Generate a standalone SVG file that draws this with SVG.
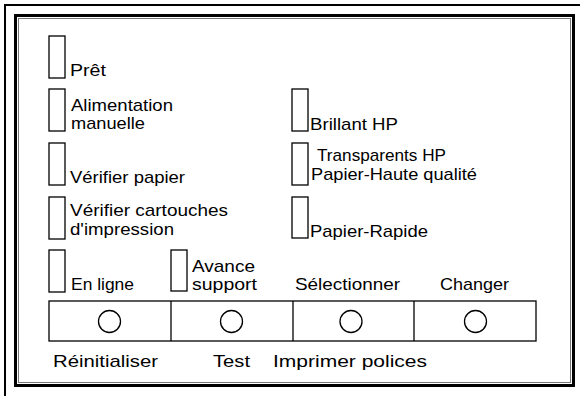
<svg xmlns="http://www.w3.org/2000/svg" width="580" height="396" viewBox="0 0 580 396">
  <style>
    .lbl { font-family: "Liberation Sans Narrow", "Liberation Sans", Arial, sans-serif; font-size: 17px; fill: #000; }
    .led { fill: #fff; stroke: #000; stroke-width: 1.3; }
    .btn { fill: none; stroke: #000; stroke-width: 1.3; }
  </style>
  <rect x="0" y="0" width="580" height="396" fill="#fff"/>

  <!-- outer frame lines -->
  <g id="frame">
    <line x1="4" y1="5" x2="580" y2="5" stroke="#000" stroke-width="2"/>
    <line x1="5" y1="4" x2="5" y2="396" stroke="#000" stroke-width="2"/>
    <rect x="15.5" y="15.5" width="558" height="370" fill="none" stroke="#000" stroke-width="3"/>
    <rect x="18.5" y="18.5" width="552" height="364" fill="none" stroke="#777" stroke-width="1"/>
  </g>

  <!-- left column of indicators -->
  <g id="pret">
    <rect class="led" x="49" y="36" width="16" height="42"/>
    <text class="lbl" x="70" y="76" textLength="36" lengthAdjust="spacingAndGlyphs">Prêt</text>
  </g>
  <g id="alimentation">
    <rect class="led" x="49" y="89" width="16" height="42"/>
    <text class="lbl" x="71" y="110.5" textLength="102" lengthAdjust="spacingAndGlyphs">Alimentation</text>
    <text class="lbl" x="71" y="129" textLength="74" lengthAdjust="spacingAndGlyphs">manuelle</text>
  </g>
  <g id="verifier-papier">
    <rect class="led" x="49" y="143" width="16" height="42"/>
    <text class="lbl" x="70" y="183" textLength="115" lengthAdjust="spacingAndGlyphs">Vérifier papier</text>
  </g>
  <g id="verifier-cartouches">
    <rect class="led" x="49" y="197" width="16" height="42"/>
    <text class="lbl" x="70" y="215.5" textLength="158" lengthAdjust="spacingAndGlyphs">Vérifier cartouches</text>
    <text class="lbl" x="70" y="234.5" textLength="104" lengthAdjust="spacingAndGlyphs">d'impression</text>
  </g>
  <g id="en-ligne">
    <rect class="led" x="49" y="250" width="16" height="42"/>
    <text class="lbl" x="71" y="290" textLength="63" lengthAdjust="spacingAndGlyphs">En ligne</text>
  </g>
  <g id="avance-support">
    <rect class="led" x="171" y="250" width="16" height="41"/>
    <text class="lbl" x="192" y="271.5" textLength="63" lengthAdjust="spacingAndGlyphs">Avance</text>
    <text class="lbl" x="192" y="290" textLength="65" lengthAdjust="spacingAndGlyphs">support</text>
  </g>

  <!-- right column of indicators -->
  <g id="brillant">
    <rect class="led" x="292" y="89" width="16" height="42"/>
    <text class="lbl" x="310" y="130" textLength="88" lengthAdjust="spacingAndGlyphs">Brillant HP</text>
  </g>
  <g id="transparents">
    <rect class="led" x="292" y="143" width="16" height="42"/>
    <text class="lbl" x="317" y="160.5" textLength="129" lengthAdjust="spacingAndGlyphs">Transparents HP</text>
    <text class="lbl" x="311" y="179.5" textLength="166" lengthAdjust="spacingAndGlyphs">Papier-Haute qualité</text>
  </g>
  <g id="rapide">
    <rect class="led" x="292" y="197" width="16" height="41"/>
    <text class="lbl" x="310" y="236.5" textLength="118" lengthAdjust="spacingAndGlyphs">Papier-Rapide</text>
  </g>

  <!-- button strip -->
  <g id="buttons">
    <rect class="btn" x="49" y="301" width="487" height="40"/>
    <line class="btn" x1="171" y1="301" x2="171" y2="341"/>
    <line class="btn" x1="293" y1="301" x2="293" y2="341"/>
    <line class="btn" x1="414" y1="301" x2="414" y2="341"/>
    <circle class="btn" cx="109.5" cy="321.5" r="11"/>
    <circle class="btn" cx="231.5" cy="321.5" r="11"/>
    <circle class="btn" cx="351" cy="321.5" r="11"/>
    <circle class="btn" cx="475.5" cy="321.5" r="11"/>
  </g>
  <g id="button-labels-top">
    <text class="lbl" x="295" y="290" textLength="105" lengthAdjust="spacingAndGlyphs">Sélectionner</text>
    <text class="lbl" x="440" y="290" textLength="69" lengthAdjust="spacingAndGlyphs">Changer</text>
  </g>
  <g id="button-labels-bottom">
    <text class="lbl" x="53" y="366.5" textLength="105" lengthAdjust="spacingAndGlyphs">Réinitialiser</text>
    <text class="lbl" x="213" y="366.5" textLength="37" lengthAdjust="spacingAndGlyphs">Test</text>
    <text class="lbl" x="273" y="366.5" textLength="154" lengthAdjust="spacingAndGlyphs">Imprimer polices</text>
  </g>
</svg>
